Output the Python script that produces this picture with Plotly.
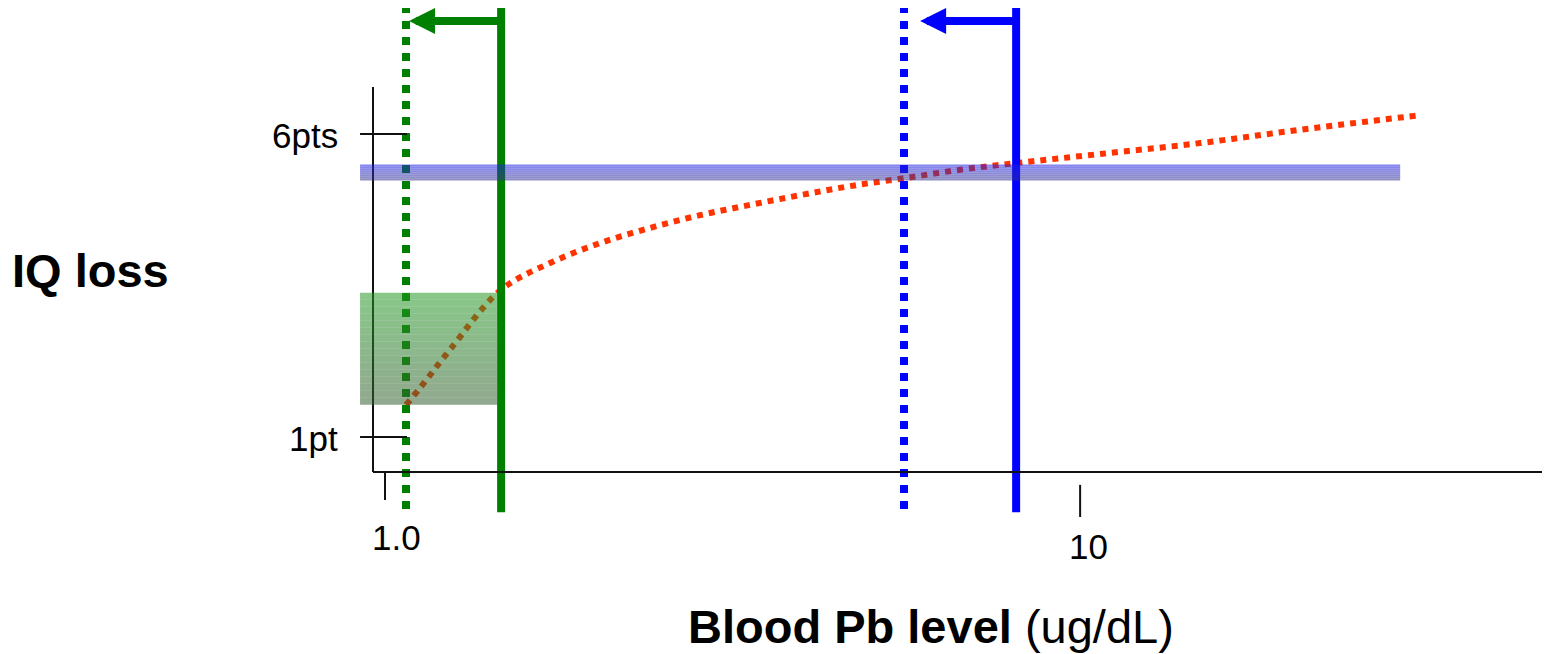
import math
import plotly.graph_objects as go

# ---------------- data ----------------
# dose-response curve (blood Pb ug/dL -> IQ points lost)
curve_x = [1.072, 1.123, 1.240, 1.469, 1.727, 2.039, 2.406, 2.840, 3.351,
           3.955, 4.668, 5.582, 6.721, 8.09, 10.69, 14.88, 20.73, 30.84]
curve_y = [1.53, 1.81, 2.44, 3.43, 3.87, 4.20, 4.45, 4.66, 4.83,
           4.99, 5.14, 5.27, 5.41, 5.52, 5.67, 5.85, 6.07, 6.31]

# reference levels (old -> new)
green_old, green_new = 1.469, 1.072
blue_old, blue_new = 8.09, 5.58
green_arrow_tip, blue_arrow_tip = 1.083, 5.886
ref_line_top, ref_line_bottom = 8.13, -0.24
arrow_y = 7.865

# shaded regions
green_box_x = [0.9206, 1.449]
green_box_y = [1.53, 3.38]
blue_band_x = [0.9206, 28.87]
blue_band_y = [5.233, 5.497]

# axes
x_axis_y = 0.4224
y_axis_x = 0.961
y_axis_top = 6.776
x_axis_end = 48
y_tick_vals = [1, 6]
y_tick_text = ["1pt", "6pts"]
y_tick_span = [0.9206, 1.0756]
x_tick_vals = [1, 10]
x_tick_text = ["1.0", "10"]
x_tick_spans = [[0.42, -0.04], [0.21, -0.32]]

x_range = [-0.5424, 1.676]
y_range = [-2.581, 8.079]

W, H = 1542, 646   # page body has an 8px margin
OFF = 8

FONT = "Liberation Sans, Arial, sans-serif"
GREEN = "rgb(0,128,0)"
BLUE = "rgb(0,0,255)"
RED = "rgb(255,51,0)"

fig = go.Figure()

# curve
fig.add_trace(go.Scatter(x=curve_x, y=curve_y, mode="lines",
                         line=dict(color=RED, width=6, dash="dot", shape="spline"),
                         hoverinfo="skip"))

# reference lines
for xv, col, dash in [(green_new, GREEN, "dot"), (green_old, GREEN, "solid"),
                      (blue_new, BLUE, "dot"), (blue_old, BLUE, "solid")]:
    fig.add_trace(go.Scatter(x=[xv, xv], y=[ref_line_top, ref_line_bottom], mode="lines",
                             line=dict(color=col, width=8, dash=dash), hoverinfo="skip"))

shapes = []
# axis lines
shapes.append(dict(type="line", xref="x", yref="y", x0=y_axis_x, x1=y_axis_x,
                   y0=x_axis_y, y1=y_axis_top, line=dict(color="#111", width=2)))
shapes.append(dict(type="line", xref="x", yref="y", x0=y_axis_x, x1=x_axis_end,
                   y0=x_axis_y, y1=x_axis_y, line=dict(color="#111", width=2)))
# ticks
for yv in y_tick_vals:
    shapes.append(dict(type="line", xref="x", yref="y", x0=y_tick_span[0], x1=y_tick_span[1],
                       y0=yv, y1=yv, line=dict(color="#111", width=2)))
for xv, span in zip(x_tick_vals, x_tick_spans):
    shapes.append(dict(type="line", xref="x", yref="y", x0=xv, x1=xv,
                       y0=span[0], y1=span[1], line=dict(color="#111", width=2)))


def gradient(x0, x1, y0, y1, c_top, c_bot, alpha, n=16):
    out = []
    for i in range(n):
        t = (i + 0.5) / n
        c = [round(c_top[k] + (c_bot[k] - c_top[k]) * t) for k in range(3)]
        ya = y1 - (y1 - y0) * i / n
        yb = y1 - (y1 - y0) * (i + 1) / n
        out.append(dict(type="rect", xref="x", yref="y", x0=x0, x1=x1, y0=yb, y1=ya,
                        fillcolor=f"rgba({c[0]},{c[1]},{c[2]},{alpha})",
                        line=dict(width=0), layer="above"))
    return out


shapes += gradient(green_box_x[0], green_box_x[1], green_box_y[0], green_box_y[1],
                   (39, 155, 39), (55, 97, 50), 0.55)
shapes += gradient(blue_band_x[0], blue_band_x[1], blue_band_y[0], blue_band_y[1],
                   (33, 33, 237), (53, 53, 140), 0.55, n=8)

annotations = []
# arrows
for tip, tail, col in [(green_arrow_tip, green_old, GREEN), (blue_arrow_tip, blue_old, BLUE)]:
    annotations.append(dict(x=math.log10(tip), y=arrow_y, ax=math.log10(tail), ay=arrow_y,
                            xref="x", yref="y", axref="x", ayref="y", text="",
                            showarrow=True, arrowhead=2, arrowwidth=8, arrowsize=0.65,
                            arrowcolor=col, standoff=0))
# tick labels
for yv, txt in zip(y_tick_vals, y_tick_text):
    annotations.append(dict(x=math.log10(y_tick_span[0]), y=yv, xref="x", yref="y",
                            text=txt, showarrow=False, xanchor="right", yanchor="middle",
                            xshift=-20, yshift=-2,
                            font=dict(family=FONT, size=35, color="black")))
for xv, txt, dx, dy in zip(x_tick_vals, x_tick_text, [11, 8], [-66, -75]):
    annotations.append(dict(x=math.log10(xv), y=x_axis_y, xref="x", yref="y",
                            text=txt, showarrow=False, xanchor="center", yanchor="middle",
                            xshift=dx, yshift=dy,
                            font=dict(family=FONT, size=35, color="black")))
# titles
annotations.append(dict(x=(90 - OFF) / W, y=1 - (270 - OFF) / H, xref="paper", yref="paper",
                        text="<b>IQ loss</b>", showarrow=False, xanchor="center", yanchor="middle",
                        font=dict(family=FONT, size=47, color="black")))
annotations.append(dict(x=(931 - OFF) / W, y=1 - (626 - OFF) / H, xref="paper", yref="paper",
                        text="<b>Blood Pb level</b> (ug/dL)", showarrow=False,
                        xanchor="center", yanchor="middle",
                        font=dict(family=FONT, size=47, color="black")))

fig.update_layout(
    width=W, height=H,
    margin=dict(l=0, r=0, t=0, b=0),
    paper_bgcolor="white", plot_bgcolor="white",
    showlegend=False,
    xaxis=dict(type="log", range=x_range, visible=False, fixedrange=True),
    yaxis=dict(range=y_range, visible=False, fixedrange=True),
    shapes=shapes, annotations=annotations,
)

fig.write_html("out.html")
